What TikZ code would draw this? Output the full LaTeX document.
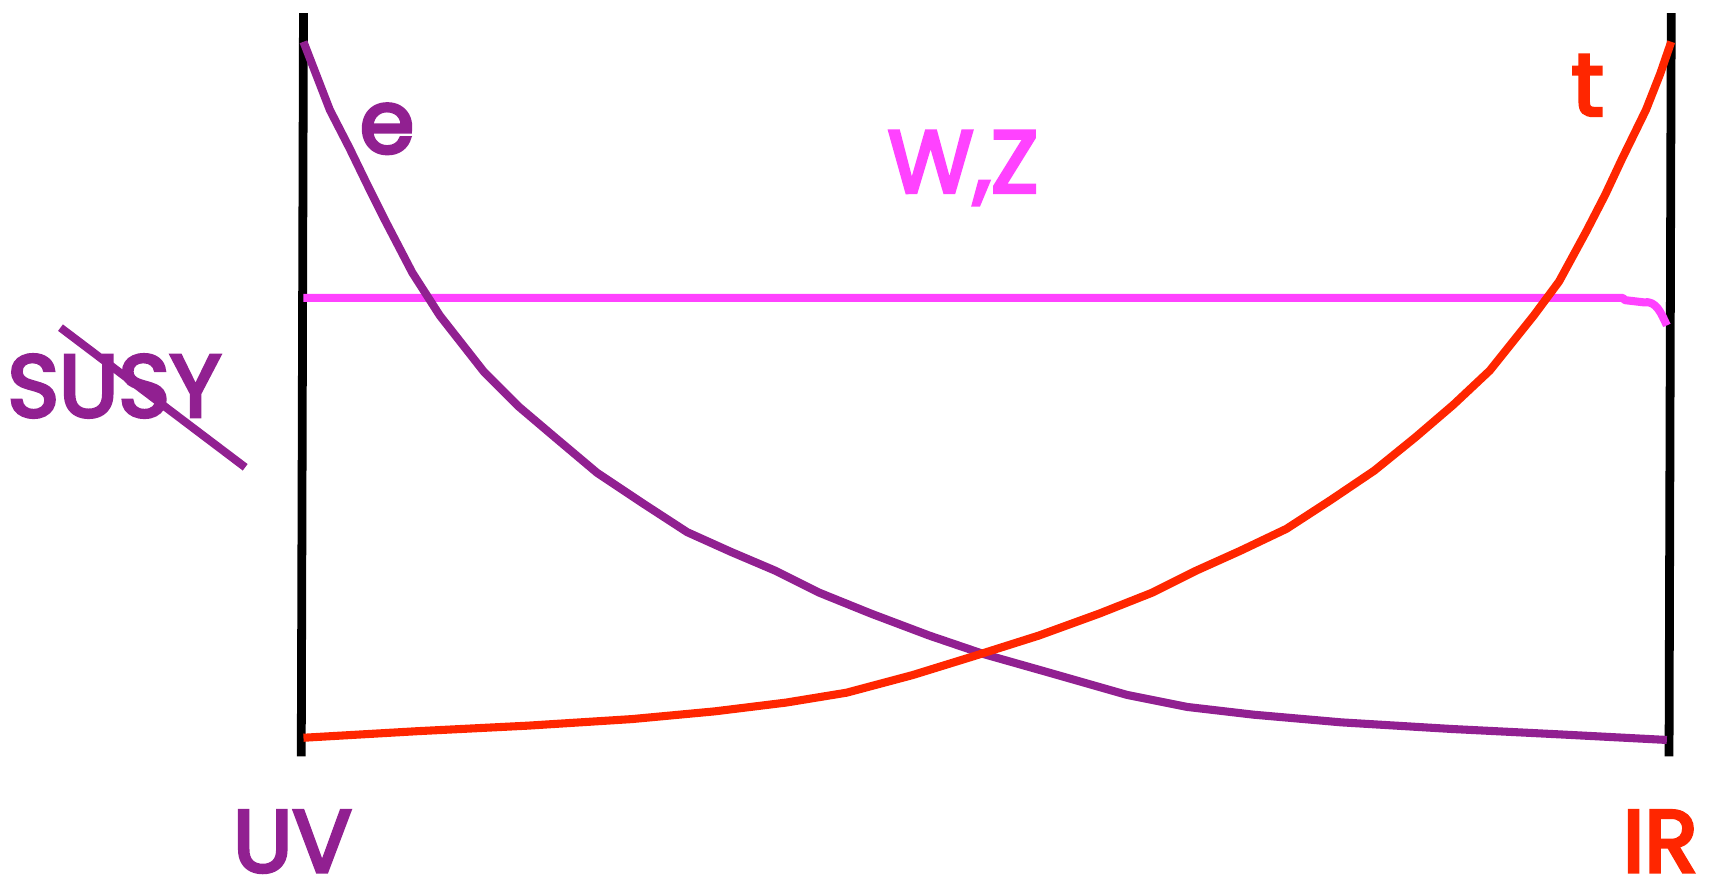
\documentclass[tikz,border=0pt]{standalone}
\usepackage{fontspec}
\setmainfont{Poppins}
\newfontfamily\handfont{Poppins}[FakeBold=4]
\usepackage{xcolor,tikz}
\usetikzlibrary{positioning,calc}
\definecolor{epurple}{RGB}{145,32,145}
\definecolor{tred}{RGB}{255,38,0}
\definecolor{wzpink}{RGB}{255,66,255}
\tikzset{
 wall/.style={line width=5pt,black},
 curve/.style={line width=4.6pt,line join=round},
 lbl/.style={font=\fontsize{50}{60}\handfont,inner sep=0pt,anchor=base,text depth=0pt}
}

\begin{document}
\begin{tikzpicture}[x=0.022cm,y=-0.022cm]
 \useasboundingbox (0,0) rectangle (1568,804);
 % the two ends of the flow
 \draw[wall] (276,12)--(274,688);
 \draw[wall] (1520,12)--(1518,688);
 % W,Z line
 \draw[curve,wzpink] (276,271)--(1476,271)--(1478,273)--(1495,275)
  to[out=10,in=115] (1516,296);
 % electron
 \draw[curve,epurple] (276,38)--(300,100)--(318,135)--(335,170)--(350,200)
  --(375,248)--(400,287)--(440,338)--(472,370)--(505,398)--(543,430)
  --(585,458)--(625,484)--(665,502)--(705,519)--(745,539)--(792,558)
  --(845,578)--(895,595)--(955,612)--(1025,632)--(1080,643)--(1140,650)
  --(1220,657)--(1320,663)--(1420,668)--(1516,673);
 % top quark
 \draw[curve,tred] (276,671)--(380,665)--(480,660)--(575,654)--(650,647)
  --(715,639)--(770,630)--(830,614)--(885,597)--(945,578)--(1000,558)
  --(1048,539)--(1088,519)--(1128,501)--(1170,481)--(1210,455)
  --(1250,428)--(1287,398)--(1322,368)--(1355,337)--(1395,287)
  --(1418,256)--(1443,210)--(1460,177)--(1475,145)--(1497,100)
  --(1510,67)--(1520,38);
 \node[lbl,epurple] (e) at (352,139) {e};
 \node[lbl,wzpink] (wz) at (876,175) {W,Z};
 \node[lbl,tred] (t) at (1444,105) {t};
 \node[lbl,epurple] (susy) at (104,379) {SUSY};
 \draw[curve,epurple] (55,298)--(223,425);
 \node[lbl,epurple] (uv) at (266,793) {UV};
 \node[lbl,tred] (ir) at (1510,793) {IR};
\end{tikzpicture}
\end{document}
